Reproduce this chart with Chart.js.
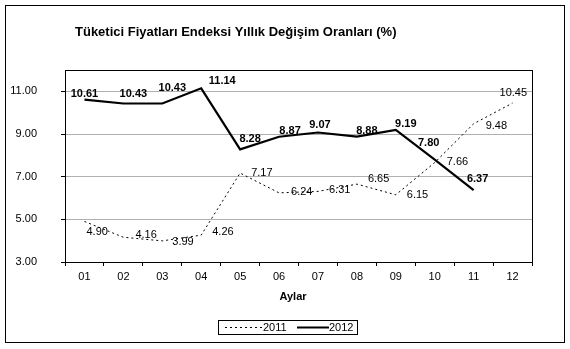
<!DOCTYPE html>
<html>
<head>
<meta charset="utf-8">
<script src="https://cdn.jsdelivr.net/npm/chart.js@4/dist/chart.umd.min.js"></script>
<style>
    body { margin: 0; background: #fff; }
    canvas { display: block; }
</style>
</head>
<body>
<canvas id="tufeChart" width="570" height="349"></canvas>
<script>
// Données
const months = ['01', '02', '03', '04', '05', '06', '07', '08', '09', '10', '11', '12'];
const values2011 = [4.90, 4.16, 3.99, 4.26, 7.17, 6.24, 6.31, 6.65, 6.15, 7.66, 9.48, 10.45];
const values2012 = [10.61, 10.43, 10.43, 11.14, 8.28, 8.87, 9.07, 8.88, 9.19, 7.80, 6.37];
const yTickValues = [3, 5, 7, 9, 11];

// Décalage des étiquettes (px), repris de l'image
const shift2011 = [[2, 11], [12, -2], [10, 1], [11, -3], [11, 0], [12, -1], [11, -1], [11, -5], [11, 0], [12, -1], [12, 2], [-13, -10]];
const shift2012 = [[0, -6], [10, -10], [10, -16], [21, -7], [10, -10], [11, -6], [2, -8], [10, -6], [10, -6], [-6, -17], [4, -11]];

const fontName = '"Liberation Sans", Arial, sans-serif';

/**
 * Cadre, titre, étiquettes et légende
 */
const decorPlugin = {
    id: 'decor',
    afterDatasetsDraw(chart) {
        const ctx = chart.ctx;
        const area = chart.chartArea;
        ctx.save();

        // étiquettes des valeurs
        ctx.fillStyle = '#000';
        ctx.textBaseline = 'middle';
        const m11 = chart.getDatasetMeta(0);
        ctx.font = '11px ' + fontName;
        ctx.textAlign = 'left';
        m11.data.forEach((pt, i) => {
            const s = shift2011[i];
            ctx.fillText(values2011[i].toFixed(2), pt.x + s[0], pt.y + s[1]);
        });
        const m12 = chart.getDatasetMeta(1);
        ctx.font = 'bold 11px ' + fontName;
        ctx.textAlign = 'center';
        m12.data.forEach((pt, i) => {
            const s = shift2012[i];
            ctx.fillText(values2012[i].toFixed(2), pt.x + s[0], pt.y + s[1]);
        });

        // bord du graphique
        ctx.strokeStyle = '#000';
        ctx.lineWidth = 1;
        ctx.strokeRect(Math.round(area.left) + 0.5, Math.round(area.top) + 0.5,
            Math.round(area.right - area.left), Math.round(area.bottom - area.top));

        // cadre extérieur
        ctx.strokeRect(5.5, 5.5, 559, 337);

        // titre
        ctx.font = 'bold 13px ' + fontName;
        ctx.textAlign = 'left';
        ctx.fillText('Tüketici Fiyatları Endeksi Yıllık Değişim Oranları (%)', 75, 32);

        // titre de l'axe
        ctx.font = 'bold 11px ' + fontName;
        ctx.textAlign = 'center';
        ctx.fillText('Aylar', 293, 297);

        // légende
        ctx.strokeRect(218.5, 320.5, 139, 14);
        ctx.font = '11px ' + fontName;
        ctx.textAlign = 'left';
        ctx.beginPath();
        ctx.setLineDash([2, 3]);
        ctx.moveTo(225, 327.5);
        ctx.lineTo(262, 327.5);
        ctx.stroke();
        ctx.setLineDash([]);
        ctx.fillText('2011', 263, 328);
        ctx.beginPath();
        ctx.lineWidth = 2;
        ctx.moveTo(297, 327.5);
        ctx.lineTo(329, 327.5);
        ctx.stroke();
        ctx.fillText('2012', 329, 328);

        ctx.restore();
    }
};

function initTufeChart() {
    const canvas = document.getElementById('tufeChart');
    new Chart(canvas, {
        type: 'line',
        data: {
            labels: months,
            datasets: [{
                label: '2011',
                data: values2011,
                borderColor: '#000',
                borderWidth: 1,
                borderDash: [2, 3],
                pointRadius: 0,
                tension: 0,
            }, {
                label: '2012',
                data: values2012,
                borderColor: '#000',
                borderWidth: 2.2,
                pointRadius: 0,
                tension: 0,
            }],
        },
        options: {
            responsive: false,
            animation: false,
            layout: { padding: { top: 70, right: 38, left: 0, bottom: 0 } },
            plugins: {
                legend: { display: false },
                tooltip: { enabled: false },
            },
            scales: {
                x: {
                    offset: true,
                    grid: {
                        offset: true,
                        drawOnChartArea: false,
                        tickLength: 4,
                        tickColor: '#000',
                    },
                    border: { color: '#000' },
                    ticks: {
                        color: '#000',
                        padding: 4,
                        font: { family: fontName, size: 11 },
                    },
                    afterFit: (scale) => { scale.height = 87; },
                },
                y: {
                    min: 3,
                    max: 12,
                    afterBuildTicks: (scale) => {
                        scale.ticks = yTickValues.map(v => ({ value: v }));
                    },
                    grid: {
                        color: '#b0b0b0',
                        tickLength: 4,
                        tickColor: '#000',
                    },
                    border: { color: '#000' },
                    ticks: {
                        color: '#000',
                        padding: 24,
                        font: { family: fontName, size: 11 },
                        callback: (v) => Number(v).toFixed(2),
                    },
                    afterFit: (scale) => { scale.width = 65; },
                },
            },
        },
        plugins: [decorPlugin],
    });
}

initTufeChart();
</script>
</body>
</html>
